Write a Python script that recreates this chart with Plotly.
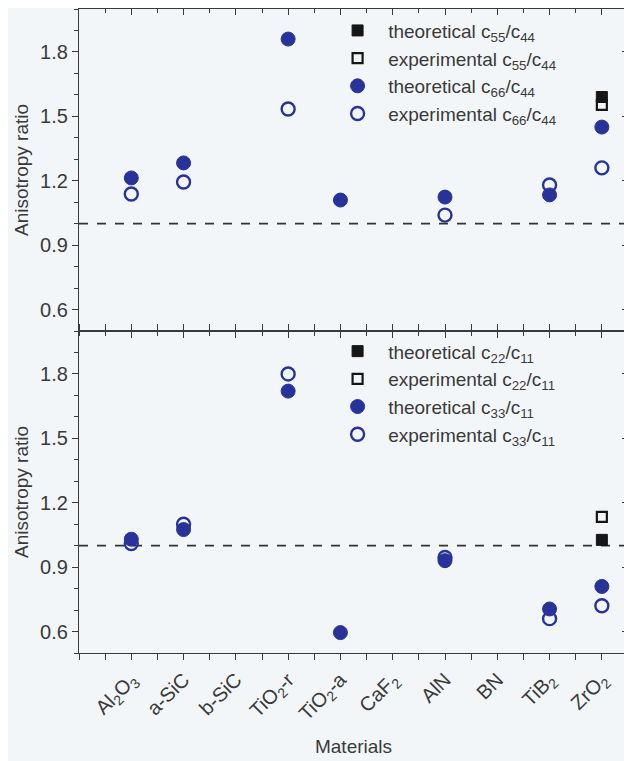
import plotly.graph_objects as go

materials = ["Al<sub>2</sub>O<sub>3</sub>", "a-SiC", "b-SiC", "TiO<sub>2</sub>-r", "TiO<sub>2</sub>-a",
             "CaF<sub>2</sub>", "AlN", "BN", "TiB<sub>2</sub>", "ZrO<sub>2</sub>"]
positions = [1, 2, 3, 4, 5, 6, 7, 8, 9, 10]

# Top panel (ratios to c44)
theo_c55_c44 = [None, None, None, None, None, None, None, None, None, 1.59]
exp_c55_c44 = [None, None, None, None, None, None, None, None, None, 1.553]
theo_c66_c44 = [1.213, 1.283, None, 1.86, 1.11, None, 1.124, None, 1.134, 1.45]
exp_c66_c44 = [1.138, 1.194, None, 1.534, None, None, 1.04, None, 1.18, 1.26]

# Bottom panel (ratios to c11)
theo_c22_c11 = [None, None, None, None, None, None, None, None, None, 1.027]
exp_c22_c11 = [None, None, None, None, None, None, None, None, None, 1.134]
theo_c33_c11 = [1.03, 1.075, None, 1.72, 0.595, None, 0.93, None, 0.705, 0.81]
exp_c33_c11 = [1.01, 1.10, None, 1.80, None, None, 0.945, None, 0.66, 0.72]

BLUE = "#28339a"
BLACK = "#161616"
BG = "#f3f6f9"
TXT = "#3a3a3a"
FONT = "Liberation Sans, Arial, sans-serif"
PAD = "\u00a0\u00a0"

fig = go.Figure()

def add_set(x, ys, names, xa, ya, legend):
    styles = [
        dict(symbol="square", size=11, color=BLACK, line=dict(color=BLACK, width=1)),
        dict(symbol="square-open", size=10, color=BLACK, line=dict(color=BLACK, width=2.2)),
        dict(symbol="circle", size=14, color=BLUE, line=dict(color=BLUE, width=1)),
        dict(symbol="circle-open", size=13, color=BLUE, line=dict(color=BLUE, width=2.4)),
    ]
    for y, n, s in zip(ys, names, styles):
        fig.add_trace(go.Scatter(x=x, y=y, mode="markers", name=PAD + n, marker=s,
                                 xaxis=xa, yaxis=ya, legend=legend, cliponaxis=False))

add_set(positions, [theo_c55_c44, exp_c55_c44, theo_c66_c44, exp_c66_c44],
        ["theoretical c<sub>55</sub>/c<sub>44</sub>", "experimental c<sub>55</sub>/c<sub>44</sub>",
         "theoretical c<sub>66</sub>/c<sub>44</sub>", "experimental c<sub>66</sub>/c<sub>44</sub>"],
        "x", "y", "legend")
add_set(positions, [theo_c22_c11, exp_c22_c11, theo_c33_c11, exp_c33_c11],
        ["theoretical c<sub>22</sub>/c<sub>11</sub>", "experimental c<sub>22</sub>/c<sub>11</sub>",
         "theoretical c<sub>33</sub>/c<sub>11</sub>", "experimental c<sub>33</sub>/c<sub>11</sub>"],
        "x2", "y2", "legend2")

xr = [0, 10.5]
yr = [0.5, 2.0]
minor_x = dict(ticks="outside", ticklen=4, tickcolor=TXT, dtick=0.5, tick0=0, showgrid=False)
minor_x_in = dict(ticks="inside", ticklen=4, tickcolor=TXT, dtick=0.5, tick0=0, showgrid=False)
minor_y = dict(ticks="outside", ticklen=4, tickcolor=TXT, dtick=0.1, tick0=0.5, showgrid=False)
minor_y_in = dict(ticks="inside", ticklen=4, tickcolor=TXT, dtick=0.1, tick0=0.5, showgrid=False)

TICKF = dict(family=FONT, size=20, color=TXT)
axis_common = dict(showline=True, linecolor=TXT, linewidth=1.3, showgrid=False, zeroline=False,
                   tickcolor=TXT, tickfont=TICKF, automargin=False)
yvals = [0.6, 0.9, 1.2, 1.5, 1.8]
ytext = ["0.6", "0.9", "1.2", "1.5", "1.8"]
TITLEF = dict(family=FONT, size=19, color=TXT)

fig.update_layout(
    width=632, height=761,
    paper_bgcolor=BG, plot_bgcolor=BG,
    margin=dict(l=71, r=12, t=1, b=116),
    font=dict(family=FONT, color=TXT, size=19),
    # top panel
    xaxis=dict(axis_common, domain=[0, 1], anchor="y", range=xr, tickvals=positions,
               showticklabels=False, ticks="outside", ticklen=6, minor=minor_x),
    yaxis=dict(axis_common, domain=[0.5, 1], anchor="x", range=yr,
               tickvals=yvals, ticktext=ytext, ticks="outside", ticklen=6, minor=minor_y,
               title=dict(text="Anisotropy ratio", font=TITLEF, standoff=6)),
    # bottom panel
    xaxis2=dict(axis_common, domain=[0, 1], anchor="y2", range=xr, tickvals=positions,
                ticktext=materials, tickangle=-45, ticks="outside", ticklen=6, minor=minor_x,
                mirror="allticks",
                title=dict(text="Materials", font=TITLEF, standoff=14)),
    yaxis2=dict(axis_common, domain=[0, 0.5], anchor="x2", range=yr,
                tickvals=yvals, ticktext=ytext, ticks="outside", ticklen=6, minor=minor_y,
                title=dict(text="Anisotropy ratio", font=TITLEF, standoff=6)),
    # inward ticks on the top edge and right edges
    xaxis3=dict(axis_common, overlaying="x", side="top", anchor="y", range=xr, tickvals=positions,
                showticklabels=False, ticks="inside", ticklen=6, minor=minor_x_in),
    yaxis3=dict(axis_common, overlaying="y", side="right", anchor="x", range=yr,
                tickvals=yvals, showticklabels=False, ticks="inside", ticklen=6, minor=minor_y_in),
    yaxis4=dict(axis_common, overlaying="y2", side="right", anchor="x2", range=yr,
                tickvals=yvals, showticklabels=False, ticks="inside", ticklen=6, minor=minor_y_in),
    legend=dict(x=0.471, y=0.996, xanchor="left", yanchor="top", bgcolor="rgba(0,0,0,0)",
                font=dict(family=FONT, size=19, color=TXT), tracegroupgap=0, itemwidth=30),
    legend2=dict(x=0.471, y=0.498, xanchor="left", yanchor="top", bgcolor="rgba(0,0,0,0)",
                 font=dict(family=FONT, size=19, color=TXT), tracegroupgap=0, itemwidth=30),
    showlegend=True,
)

# invisible traces to activate the mirror axes
fig.add_trace(go.Scatter(x=[None], y=[None], xaxis="x3", yaxis="y3", showlegend=False, hoverinfo="skip"))
fig.add_trace(go.Scatter(x=[None], y=[None], xaxis="x2", yaxis="y4", showlegend=False, hoverinfo="skip"))

# reference lines at ratio = 1
for ya, xa in (("y", "x"), ("y2", "x2")):
    fig.add_shape(type="line", xref=f"{xa} domain", yref=ya, x0=0, x1=1, y0=1.0, y1=1.0,
                  line=dict(color="#333333", width=1.6, dash="dash"), layer="below")

fig.write_html("out.html")
